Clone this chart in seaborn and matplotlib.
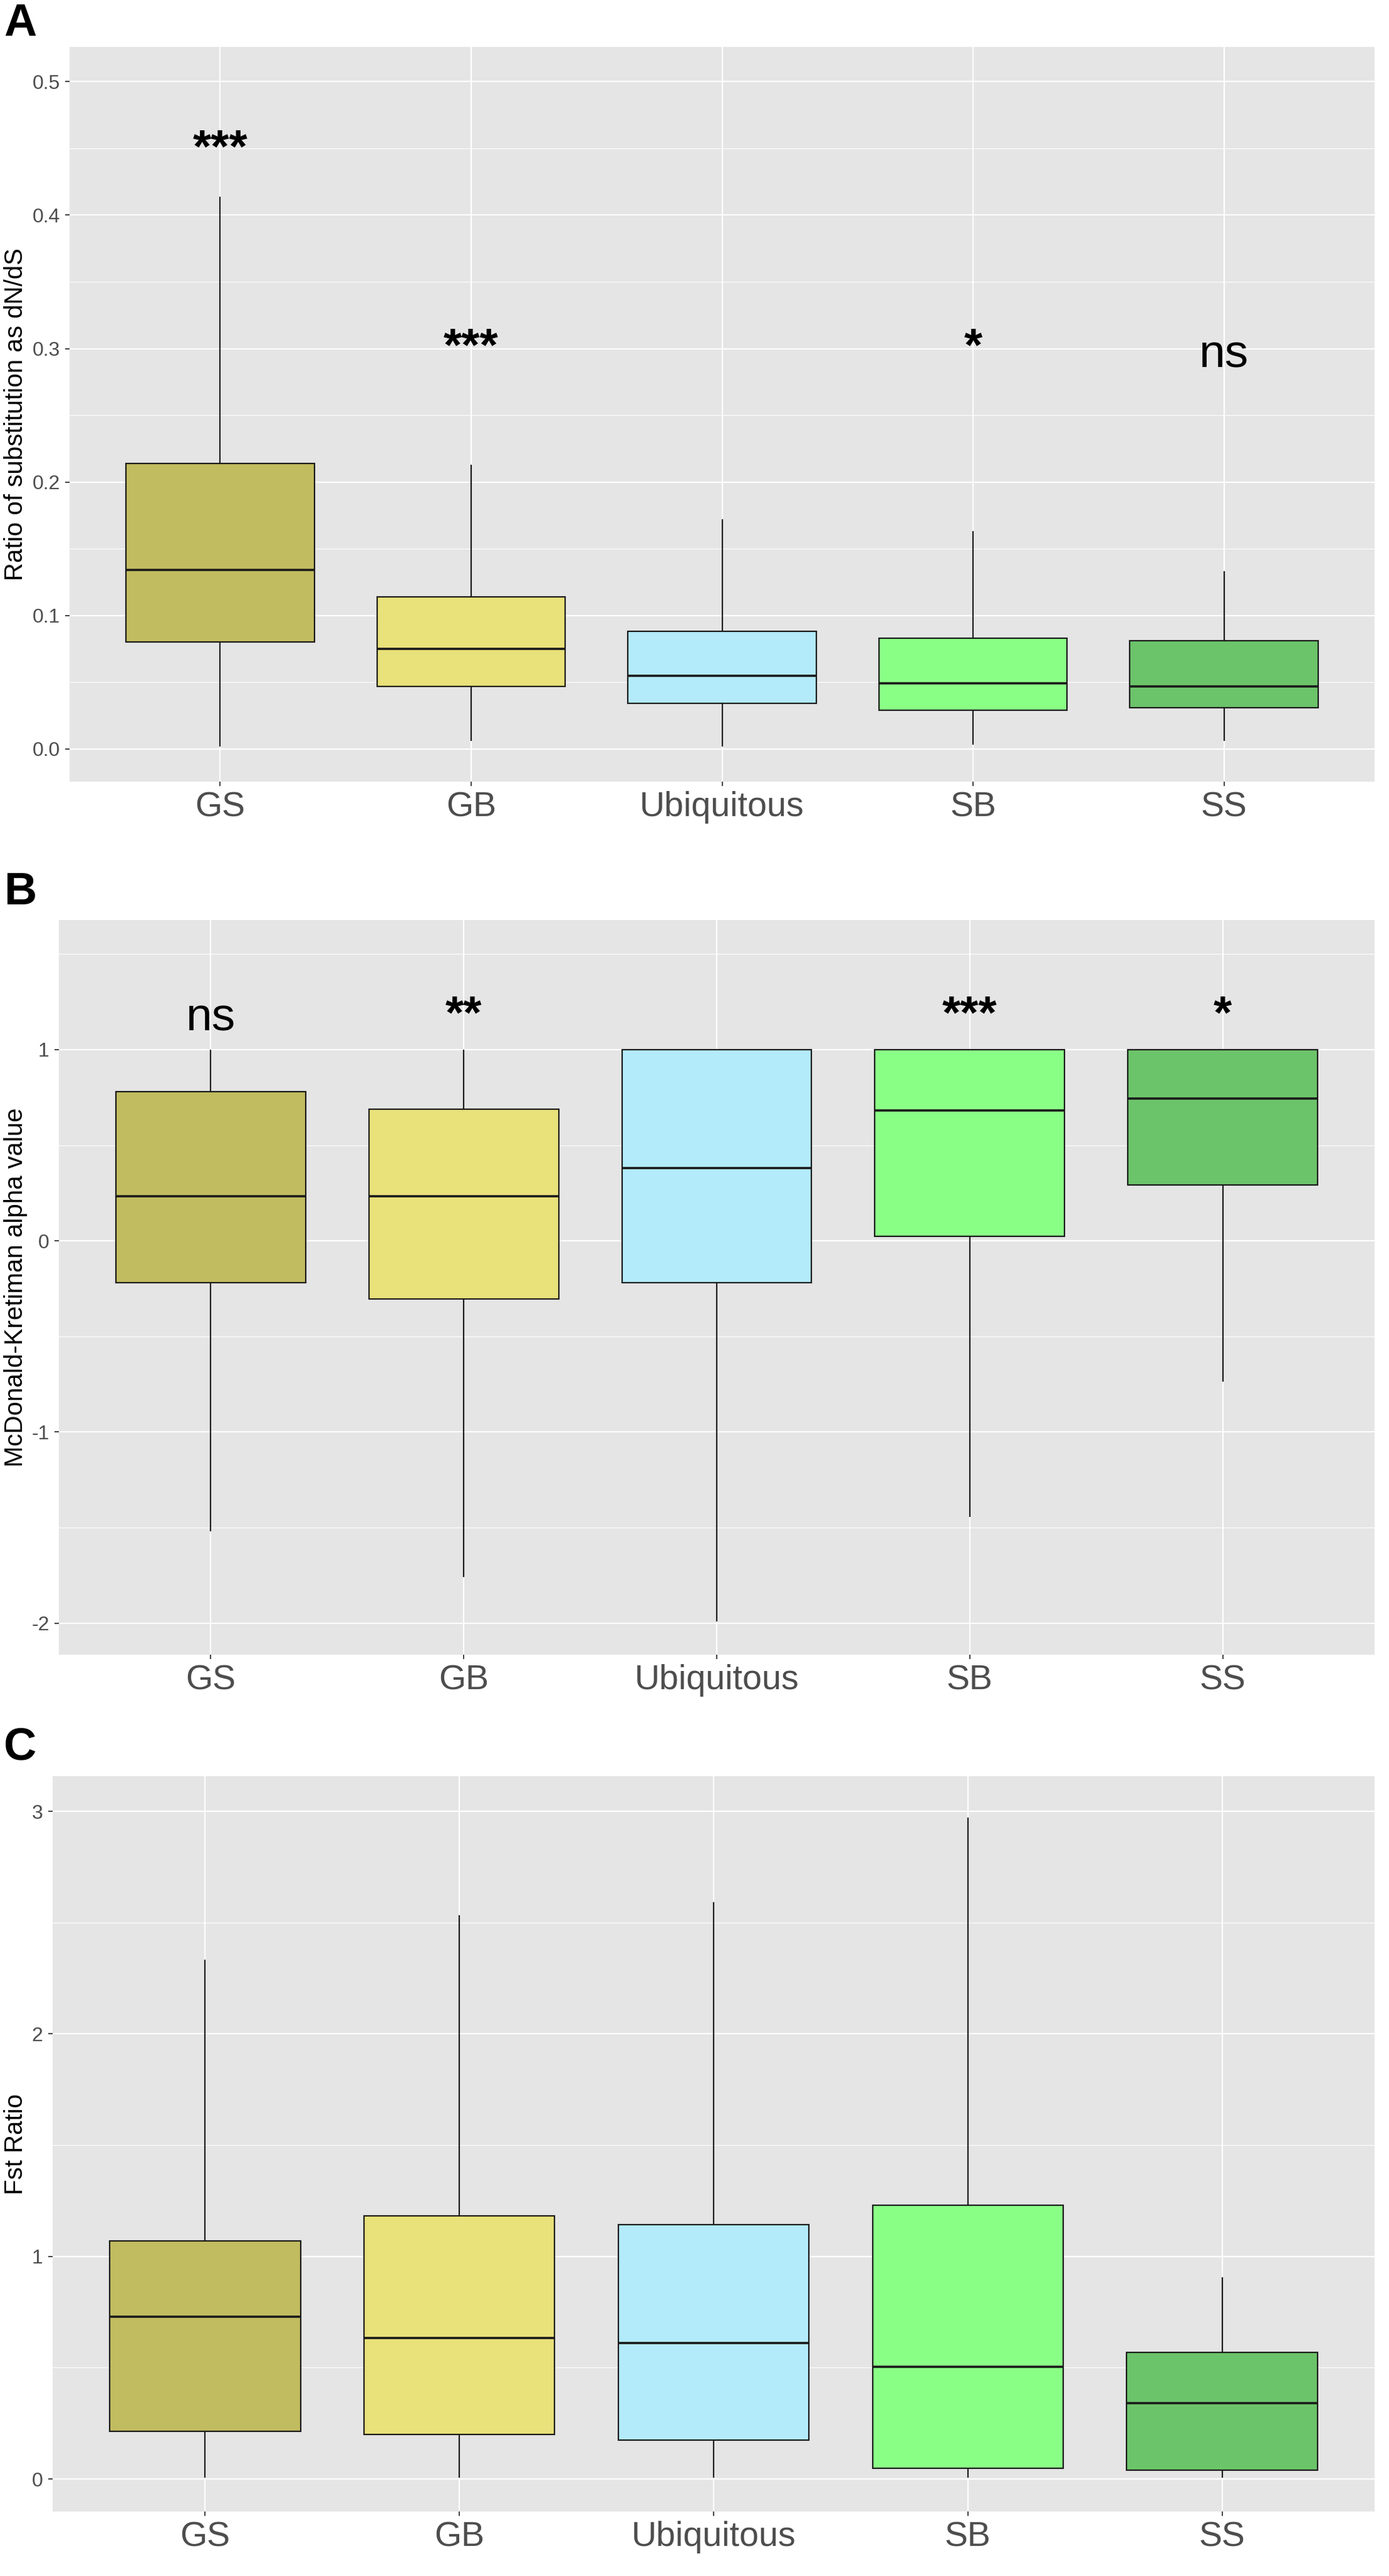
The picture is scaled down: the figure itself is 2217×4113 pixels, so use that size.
import numpy as np
import pandas as pd
import matplotlib
matplotlib.use("Agg")
import matplotlib.pyplot as plt
from matplotlib.ticker import MultipleLocator, FormatStrFormatter
import seaborn as sns

groups = ["GS", "GB", "Ubiquitous", "SB", "SS"]
box_colors = ["#C2BC60", "#E9E17A", "#B3EBFB", "#8AFF86", "#6CC46A"]

# five-number summaries: whisker low, Q1, median, Q3, whisker high
dnds_low = [0.002, 0.006, 0.002, 0.003, 0.006]
dnds_q1 = [0.080, 0.047, 0.034, 0.029, 0.031]
dnds_med = [0.134, 0.075, 0.055, 0.049, 0.047]
dnds_q3 = [0.214, 0.114, 0.088, 0.083, 0.081]
dnds_high = [0.414, 0.213, 0.172, 0.163, 0.133]
dnds_sig = ["***", "***", "", "*", "ns"]
dnds_sig_y = [0.440, 0.291, 0.291, 0.291, 0.286]

mk_low = [-1.52, -1.76, -1.99, -1.445, -0.737]
mk_q1 = [-0.218, -0.303, -0.218, 0.022, 0.291]
mk_med = [0.233, 0.233, 0.381, 0.683, 0.745]
mk_q3 = [0.781, 0.689, 1.0, 1.0, 1.0]
mk_high = [1.0, 1.0, 1.0, 1.0, 1.0]
mk_sig = ["ns", "**", "", "***", "*"]
mk_sig_y = [1.10, 1.115, 1.115, 1.115, 1.115]

fst_low = [0.005, 0.005, 0.005, 0.005, 0.005]
fst_q1 = [0.214, 0.199, 0.175, 0.049, 0.039]
fst_med = [0.729, 0.634, 0.612, 0.503, 0.340]
fst_q3 = [1.071, 1.183, 1.142, 1.229, 0.568]
fst_high = [2.334, 2.533, 2.592, 2.971, 0.906]

W, H = 2217, 4113
plt.rcParams["font.family"] = ["Liberation Sans", "DejaVu Sans"]
plt.rcParams["axes.unicode_minus"] = False

fig = plt.figure(figsize=(W / 100, H / 100), dpi=100)


def rect(left, top, right, bottom):
    return [left / W, 1 - bottom / H, (right - left) / W, (bottom - top) / H]


def panel(ax, low, q1, med, q3, high, ylabel, ylim, major, fmt, left_px, sig=None, sig_y=None):
    df = pd.DataFrame({
        "group": np.repeat(groups, 5),
        "value": np.column_stack([low, q1, med, q3, high]).ravel(),
    })
    ax.set_facecolor("#E5E5E5")
    sns.boxplot(data=df, x="group", y="value", hue="group", order=groups,
                hue_order=groups, palette=box_colors, saturation=1,
                whis=(0, 100), width=0.75, showcaps=False,
                linecolor="#1A1A1A", linewidth=1.6,
                medianprops={"linewidth": 2.6}, legend=False, ax=ax)
    ax.set_xlim(-0.6, 4.6)
    ax.set_ylim(*ylim)
    ax.yaxis.set_major_locator(MultipleLocator(major))
    ax.yaxis.set_minor_locator(MultipleLocator(major / 2))
    ax.yaxis.set_major_formatter(FormatStrFormatter(fmt))
    ax.grid(which="major", color="white", linewidth=1.6)
    ax.grid(which="minor", axis="y", color="white", linewidth=0.8)
    ax.set_axisbelow(True)
    for s in ax.spines.values():
        s.set_visible(False)
    ax.tick_params(which="major", length=5, width=1.3, color="#333333")
    ax.tick_params(which="minor", length=0)
    ax.tick_params(axis="x", labelsize=40, labelcolor="#4D4D4D", pad=6)
    ax.tick_params(axis="y", labelsize=23, labelcolor="#4D4D4D", pad=6)
    ax.set_xlabel("")
    ax.set_ylabel(ylabel, fontsize=29, color="black")
    ax.yaxis.label.set_verticalalignment("center")
    ax.yaxis.set_label_coords((25 - left_px) / (ax.get_position().width * W), 0.5)
    if sig is not None:
        for i, (lab, y) in enumerate(zip(sig, sig_y)):
            if lab:
                weight = "bold" if lab.startswith("*") else "normal"
                ax.text(i, y, lab, ha="center", va="baseline", fontsize=54,
                        fontweight=weight, color="black")


axA = fig.add_axes(rect(111, 75, 2194, 1248))
panel(axA, dnds_low, dnds_q1, dnds_med, dnds_q3, dnds_high,
      "Ratio of substitution as dN/dS", (-0.0245, 0.526), 0.1, "%.1f", 111,
      dnds_sig, dnds_sig_y)

axB = fig.add_axes(rect(94, 1469, 2194, 2642))
panel(axB, mk_low, mk_q1, mk_med, mk_q3, mk_high,
      "McDonald-Kretiman alpha value", (-2.165, 1.678), 1, "%d", 94,
      mk_sig, mk_sig_y)

axC = fig.add_axes(rect(84, 2836, 2194, 4010))
panel(axC, fst_low, fst_q1, fst_med, fst_q3, fst_high,
      "Fst Ratio", (-0.146, 3.158), 1, "%d", 84)

for letter, ypx in [("A", 38), ("B", 1425), ("C", 2790)]:
    fig.text(6 / W, 1 - ypx / H, letter, fontsize=52, fontweight="bold",
             ha="left", va="center")

fig.savefig("out.png", dpi=100, facecolor="white")
